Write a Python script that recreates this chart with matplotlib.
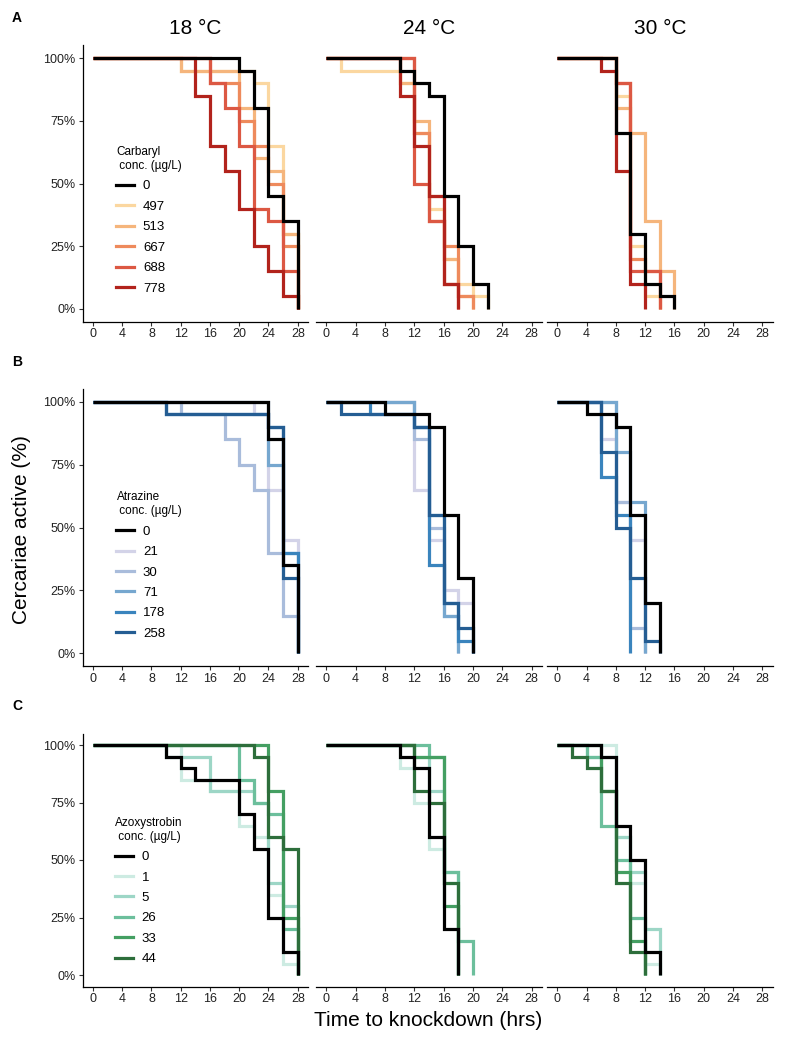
import matplotlib
matplotlib.use('Agg')
import matplotlib.pyplot as plt
from matplotlib.lines import Line2D

plt.rcParams['font.family'] = ['Liberation Sans', 'DejaVu Sans']

temps = ["18 °C", "24 °C", "30 °C"]
x_ticks = [0, 4, 8, 12, 16, 20, 24, 28]
y_ticks = [0, 25, 50, 75, 100]
y_ticklabels = ["0%", "25%", "50%", "75%", "100%"]

# Carbaryl
carb_conc = ["0", "497", "513", "667", "688", "778"]
carb_colors = ["black", "#fbd7a0", "#f5b57c", "#ee8a5c", "#dc5843", "#b2231c"]
carb18_t = [[20, 22, 24, 26, 28], [12, 22, 24, 26, 28], [12, 20, 22, 24, 26, 28],
            [16, 20, 22, 24, 26, 28], [16, 18, 20, 22, 24, 26, 28], [14, 16, 18, 20, 22, 24, 26, 28]]
carb18_s = [[95, 80, 45, 35, 0], [95, 90, 65, 30, 0], [95, 80, 60, 55, 30, 0],
            [90, 75, 65, 50, 25, 0], [90, 80, 65, 40, 35, 15, 0], [85, 65, 55, 40, 25, 15, 5, 0]]
carb24_t = [[10, 12, 14, 16, 18, 20, 22], [2, 10, 12, 14, 16, 18, 20, 22], [10, 12, 14, 16, 18, 20],
            [12, 14, 16, 18, 20], [12, 14, 16, 18], [10, 12, 14, 16, 18]]
carb24_s = [[95, 90, 85, 45, 25, 10, 0], [95, 90, 70, 40, 20, 10, 5, 0], [90, 75, 45, 20, 5, 0],
            [70, 35, 25, 5, 0], [50, 35, 10, 0], [85, 65, 45, 10, 0]]
carb30_t = [[8, 10, 12, 14, 16], [8, 10, 12, 14], [8, 10, 12, 14, 16],
            [8, 10, 12, 14], [8, 10, 14], [6, 8, 10, 12]]
carb30_s = [[70, 30, 10, 5, 0], [85, 25, 5, 0], [80, 70, 35, 15, 0],
            [90, 20, 15, 0], [90, 15, 0], [95, 55, 10, 0]]

# Atrazine
atra_conc = ["0", "21", "30", "71", "178", "258"]
atra_colors = ["black", "#d3d3e8", "#a9bcdb", "#76a7cf", "#3a84bd", "#245d93"]
atra18_t = [[24, 26, 28], [22, 24, 26, 28], [12, 18, 20, 22, 24, 26, 28],
            [24, 26, 28], [10, 24, 26, 28], [10, 24, 26, 28]]
atra18_s = [[85, 35, 0], [95, 65, 45, 0], [95, 85, 75, 65, 40, 15, 0],
            [75, 40, 0], [95, 90, 40, 0], [95, 90, 30, 0]]
atra24_t = [[8, 14, 16, 18, 20], [12, 14, 16, 18, 20], [12, 14, 16, 18],
            [12, 14, 16, 18], [6, 12, 14, 16, 18, 20], [2, 12, 14, 16, 18, 20]]
atra24_s = [[95, 90, 55, 30, 0], [65, 45, 25, 20, 0], [85, 50, 15, 0],
            [90, 55, 15, 0], [95, 90, 35, 20, 5, 0], [95, 90, 55, 20, 10, 0]]
atra30_t = [[4, 8, 10, 12, 14], [6, 8, 10, 12], [8, 10, 12],
            [8, 10, 12], [6, 8, 10], [6, 8, 10, 12, 14]]
atra30_s = [[95, 90, 55, 20, 0], [85, 60, 45, 0], [60, 10, 0],
            [80, 60, 0], [70, 55, 0], [80, 50, 30, 5, 0]]

# Azoxystrobin
azox_conc = ["0", "1", "5", "26", "33", "44"]
azox_colors = ["black", "#cdebe2", "#9dd6c6", "#6cbf9c", "#449f62", "#2d6e3b"]
azox18_t = [[10, 12, 14, 20, 22, 24, 26, 28], [12, 16, 20, 22, 24, 26, 28], [10, 16, 22, 24, 26, 28],
            [20, 22, 24, 26, 28], [24, 26, 28], [22, 24, 26, 28]]
azox18_s = [[95, 90, 85, 70, 55, 25, 10, 0], [85, 80, 65, 60, 35, 5, 0], [95, 80, 75, 40, 30, 0],
            [85, 75, 70, 20, 0], [80, 25, 0], [95, 60, 55, 0]]
azox24_t = [[10, 12, 14, 16, 18], [10, 12, 14, 16, 18], [12, 14, 16, 18],
            [14, 16, 18, 20], [12, 16, 18], [12, 14, 16, 18]]
azox24_s = [[95, 90, 60, 20, 0], [90, 75, 55, 40, 0], [95, 80, 45, 0],
            [95, 45, 15, 0], [95, 30, 0], [80, 75, 40, 0]]
azox30_t = [[6, 8, 10, 12, 14], [8, 10, 12, 14], [4, 8, 10, 12, 14],
            [4, 6, 8, 10, 12], [6, 8, 10, 12], [2, 4, 6, 8, 10, 12]]
azox30_s = [[95, 65, 50, 10, 0], [60, 40, 5, 0], [95, 60, 45, 20, 0],
            [95, 65, 50, 25, 0], [80, 45, 15, 0], [95, 90, 80, 40, 10, 0]]

rows = [
    ("Carbaryl\n conc. (µg/L)", carb_conc, carb_colors,
     [(carb18_t, carb18_s), (carb24_t, carb24_s), (carb30_t, carb30_s)]),
    ("Atrazine\n conc. (µg/L)", atra_conc, atra_colors,
     [(atra18_t, atra18_s), (atra24_t, atra24_s), (atra30_t, atra30_s)]),
    ("Azoxystrobin\n conc. (µg/L)", azox_conc, azox_colors,
     [(azox18_t, azox18_s), (azox24_t, azox24_s), (azox30_t, azox30_s)]),
]

W, H = 812, 1042
fig = plt.figure(figsize=(W / 100, H / 100), dpi=100)

col_px = [(82.7, 225.3), (316, 226), (547, 225.5)]
row_px = [(45.5, 321.5), (389, 666), (733.5, 986.5)]
leg_pos = [(0.15, 0.635), (0.15, 0.63), (0.145, 0.67)]
letters = ["A", "B", "C"]

for r, (title, conc, colors, panels) in enumerate(rows):
    top, bot = row_px[r]
    for c in range(3):
        left, width = col_px[c]
        ax = fig.add_axes([left / W, 1 - bot / H, width / W, (bot - top) / H])
        times, surv = panels[c]
        order = list(range(1, len(conc))) + [0]
        for i in order:
            tt = [0] + times[i]
            ss = [100] + surv[i]
            ax.step(tt, ss, where='post', color=colors[i], lw=2.3,
                    solid_joinstyle='miter', solid_capstyle='butt')
        ax.set_xlim(-1.4, 29.4)
        ax.set_ylim(-5, 105)
        ax.set_xticks(x_ticks)
        ax.tick_params(axis='both', labelsize=9, length=3, width=0.8, colors='#333333',
                       labelcolor='#222222', pad=2)
        for s in ['top', 'right']:
            ax.spines[s].set_visible(False)
        ax.spines['bottom'].set_linewidth(0.9)
        ax.spines['left'].set_linewidth(0.9)
        if c == 0:
            ax.set_yticks(y_ticks)
            ax.set_yticklabels(y_ticklabels)
            handles = [Line2D([], [], color=colors[i], lw=2.3) for i in range(len(conc))]
            leg = ax.legend(handles, conc, title=title, loc='upper left',
                            bbox_to_anchor=leg_pos[r], frameon=False, fontsize=9.5,
                            title_fontsize=8.5, handlelength=1.3, handletextpad=0.7,
                            labelspacing=0.62, borderaxespad=0, borderpad=0,
                            alignment='left')
        else:
            ax.spines['left'].set_visible(False)
            ax.set_yticks([])
        if r == 0:
            ax.set_title(temps[c], fontsize=15, pad=8)
    fig.text(12 / W, 1 - (top - 27) / H, letters[r], fontsize=10, fontweight='bold',
             va='center', ha='left')

fig.text(22 / W, 1 - 530 / H, "Cercariae active (%)", rotation=90, fontsize=15,
         va='center', ha='center')
fig.text(428 / W, 1 - 1020 / H, "Time to knockdown (hrs)", fontsize=15,
         va='center', ha='center')

fig.savefig("out.png", dpi=100)
